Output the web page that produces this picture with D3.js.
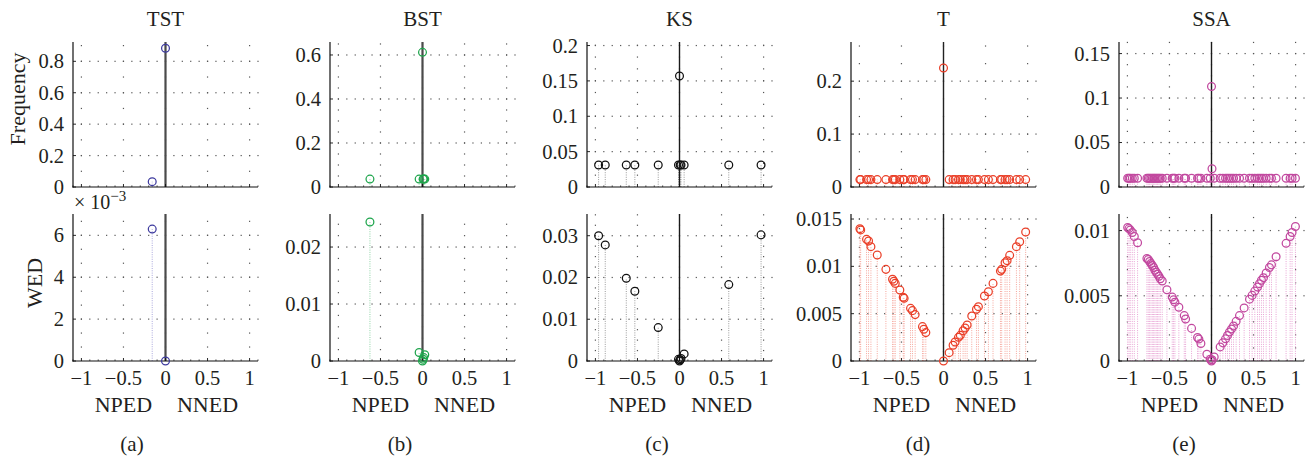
<!DOCTYPE html>
<html>
<head>
<meta charset="utf-8">
<script src="https://cdn.jsdelivr.net/npm/d3@7"></script>
<style>
  body { margin: 0; background: #fff; }
  svg { display: block; }
  text { font-family: "Liberation Serif", "Times New Roman", serif; fill: #231f20; }
</style>
</head>
<body>
<svg id="chart" width="1313" height="458"></svg>
<script>
// ---- data ----------------------------------------------------------------
const methods  = ["TST", "BST", "KS", "T", "SSA"];
const captions = ["(a)", "(b)", "(c)", "(d)", "(e)"];
const xTicks   = [-1, -0.5, 0, 0.5, 1];

// TST
const tstPos  = [-0.158, 0];
const tstFreq = [0.034, 0.883];
const tstWed  = [0.0063, 0];

// BST
const bstPos  = [-0.625, -0.04, 0, 0.007, 0.015, 0.027];
const bstFreq = [0.036, 0.036, 0.612, 0.036, 0.036, 0.036];
const bstWed  = [0.0244, 0.0015, 0, 0.0003, 0.0006, 0.0011];

// KS
const ksPos  = [-0.962, -0.883, -0.633, -0.531, -0.253, -0.012, 0, 0.008, 0.018, 0.055, 0.586, 0.970];
const ksFreq = [0.031, 0.031, 0.031, 0.031, 0.031, 0.031, 0.157, 0.031, 0.031, 0.031, 0.031, 0.031];
const ksWed  = [0.0300, 0.0278, 0.0198, 0.0167, 0.0080, 0.0004, 0, 0.0003, 0.0006, 0.0017, 0.0183, 0.0302];

// T
const tPos = [-0.994, -0.985, -0.915, -0.891, -0.863, -0.788, -0.685, -0.606, -0.590, -0.574,
              -0.519, -0.479, -0.468, -0.392, -0.369, -0.337, -0.250, -0.234, -0.210,
              0,
              0.067, 0.114, 0.138, 0.178, 0.200, 0.233, 0.257, 0.281, 0.336, 0.392, 0.415,
              0.487, 0.534, 0.589, 0.677, 0.692, 0.732, 0.756, 0.787, 0.867, 0.906, 0.977];
const tFreq = [0.014, 0.014, 0.014, 0.014, 0.014, 0.014, 0.014, 0.014, 0.014, 0.014,
               0.014, 0.014, 0.014, 0.014, 0.014, 0.014, 0.014, 0.014, 0.014,
               0.225,
               0.014, 0.014, 0.014, 0.014, 0.014, 0.014, 0.014, 0.014, 0.014, 0.014, 0.014,
               0.014, 0.014, 0.014, 0.014, 0.014, 0.014, 0.014, 0.014, 0.014, 0.014, 0.014];
const tWed = [0.01398, 0.01385, 0.01285, 0.01268, 0.01208, 0.0112, 0.00968, 0.00863, 0.00842, 0.0082,
              0.0075, 0.00673, 0.00662, 0.00556, 0.00532, 0.0049, 0.00363, 0.00335, 0.0030,
              0,
              0.00088, 0.00166, 0.0020, 0.0025, 0.00271, 0.0032, 0.00349, 0.0038, 0.00475, 0.00546, 0.00574,
              0.00687, 0.00732, 0.0082, 0.0095, 0.00968, 0.01039, 0.0106, 0.01116, 0.01208, 0.0126, 0.01363];

// SSA
const ssaPos = [-0.997, -0.981, -0.966, -0.942, -0.918, -0.879, -0.768, -0.752, -0.736, -0.720,
                -0.704, -0.688, -0.673, -0.657, -0.641, -0.625, -0.609, -0.586, -0.530, -0.467,
                -0.451, -0.435, -0.388, -0.324, -0.308, -0.237, -0.166, -0.150, -0.126, -0.055, -0.015,
                0, 0.006,
                0.032, 0.103, 0.135, 0.167, 0.190, 0.214, 0.238, 0.262, 0.293, 0.333,
                0.388, 0.452, 0.483, 0.515, 0.547, 0.570, 0.594, 0.618, 0.650, 0.689,
                0.713, 0.768, 0.887, 0.935, 0.958, 0.998];
const ssaFreq = [0.0099, 0.0099, 0.0099, 0.0099, 0.0099, 0.0099, 0.0099, 0.0099, 0.0099, 0.0099,
                 0.0099, 0.0099, 0.0099, 0.0099, 0.0099, 0.0099, 0.0099, 0.0099, 0.0099, 0.0099,
                 0.0099, 0.0099, 0.0099, 0.0099, 0.0099, 0.0099, 0.0099, 0.0099, 0.0099, 0.0099, 0.0099,
                 0.113, 0.0205,
                 0.0099, 0.0099, 0.0099, 0.0099, 0.0099, 0.0099, 0.0099, 0.0099, 0.0099, 0.0099,
                 0.0099, 0.0099, 0.0099, 0.0099, 0.0099, 0.0099, 0.0099, 0.0099, 0.0099, 0.0099,
                 0.0099, 0.0099, 0.0099, 0.0099, 0.0099, 0.0099];
const ssaWed = [0.01023, 0.01015, 0.01005, 0.00985, 0.00954, 0.00907, 0.00786, 0.00778, 0.00763, 0.00747,
                0.00732, 0.00717, 0.00696, 0.0068, 0.00665, 0.0065, 0.00631, 0.00613, 0.00546, 0.0049,
                0.00469, 0.00451, 0.00412, 0.00348, 0.00322, 0.0025, 0.0018, 0.00168, 0.00134, 0.00052, 0.00013,
                0, 0.0001,
                0.00031, 0.00108, 0.00139, 0.0017, 0.00196, 0.00222, 0.00245, 0.00268, 0.00304, 0.00348,
                0.00407, 0.00474, 0.00503, 0.00536, 0.00567, 0.00593, 0.00619, 0.00639, 0.00675, 0.00717,
                0.00737, 0.00799, 0.00902, 0.00954, 0.00985, 0.01031];

// y-axis limits and ticks per panel
const freqLimits = [0.923, 0.659, 0.205, 0.274, 0.163];
const wedLimits  = [0.00702, 0.0258, 0.0352, 0.01553, 0.01127];
const freqTicks = [[0, 0.2, 0.4, 0.6, 0.8], [0, 0.2, 0.4, 0.6], [0, 0.05, 0.1, 0.15, 0.2], [0, 0.1, 0.2], [0, 0.05, 0.1, 0.15]];
const wedTicks  = [[0, 0.002, 0.004, 0.006], [0, 0.01, 0.02], [0, 0.01, 0.02, 0.03], [0, 0.005, 0.01, 0.015], [0, 0.005, 0.01]];
const freqMinor = [0.1, 0.05, 0.0167, 0.0333, 0.0125];
const wedMinor  = [0.000667, 0.002, 0.0025, 0.001, 0.001];

// ---- styles ----------------------------------------------------------------
const markerColors = ["#3d3a9e", "#1ea54c", "#111111", "#ea3f28", "#c2489f"];
const stemColors   = ["#a9a6dc", "#8fd3a6", "#9a9a9a", "#f5a59b", "#e8a3d4"];
const centerColors = ["#4a4a4a", "#4a4a4a", "#1a1a1a", "#222222", "#1a1a1a"];
const centerWidths = [2.2, 2.2, 1.4, 1.4, 1.4];
const axLeft   = [73, 330, 587, 851, 1119];
const captionX = [132, 400, 657, 918, 1184];
const axW = 185;
const rows = [{ top: 42, bottom: 187 }, { top: 214, bottom: 361 }];
const tickSize = 20.5;

const panels = [
  { pos: tstPos, freq: tstFreq, wed: tstWed },
  { pos: bstPos, freq: bstFreq, wed: bstWed },
  { pos: ksPos,  freq: ksFreq,  wed: ksWed  },
  { pos: tPos,   freq: tFreq,   wed: tWed   },
  { pos: ssaPos, freq: ssaFreq, wed: ssaWed }
];

const svg = d3.select("#chart");
const minus = s => s.replace(/-/g, "\u2212");
const fmt = v => minus(String(+v.toPrecision(6)));

function drawAxes(i, rowIdx, values, limit, ticks, minor, tickFmt) {
  const row = rows[rowIdx];
  const L = axLeft[i];
  const x = d3.scaleLinear().domain([-1.1, 1.1]).range([L, L + axW]);
  const y = d3.scaleLinear().domain([0, limit]).range([row.bottom, row.top]);
  const g = svg.append("g");

  // dotted grid: horizontal at major y ticks, vertical at major x ticks
  const gridG = g.append("g").attr("fill", "#555");
  ticks.filter(t => t > 0).forEach(t => {
    d3.range(1, 23).forEach(k => {
      const xv = -1.1 + k * 0.1;
      gridG.append("rect").attr("x", x(xv) - 0.6).attr("y", y(t) - 0.6)
        .attr("width", 1.2).attr("height", 1.2);
    });
  });
  xTicks.forEach(xt => {
    d3.range(1, Math.floor(limit / minor + 1e-6) + 1).forEach(k => {
      gridG.append("rect").attr("x", x(xt) - 0.6).attr("y", y(k * minor) - 0.6)
        .attr("width", 1.2).attr("height", 1.2);
    });
  });

  const pts = panels[i].pos.map((p, j) => ({ p, v: values[j] }));

  // stems
  g.append("g").selectAll("line").data(pts).join("line")
    .attr("x1", d => x(d.p)).attr("x2", d => x(d.p))
    .attr("y1", y(0)).attr("y2", d => y(d.v))
    .attr("stroke", stemColors[i]).attr("stroke-width", 1)
    .attr("stroke-dasharray", "1,1.3");

  // zero reference line
  g.append("line").attr("x1", x(0)).attr("x2", x(0))
    .attr("y1", y(0)).attr("y2", row.top)
    .attr("stroke", centerColors[i]).attr("stroke-width", centerWidths[i]);

  // axes
  const ax = g.append("g").attr("stroke", "#111").attr("stroke-width", 1.2);
  ax.append("line").attr("x1", L).attr("x2", L).attr("y1", row.top).attr("y2", row.bottom + 0.6);
  ax.append("line").attr("x1", L - 0.6).attr("x2", L + axW).attr("y1", row.bottom).attr("y2", row.bottom);
  xTicks.forEach(t => ax.append("line").attr("x1", x(t)).attr("x2", x(t))
    .attr("y1", row.bottom).attr("y2", row.bottom - 3).attr("stroke-width", 0.9));
  d3.range(-11, 12).forEach(k => {
    if (k % 5 !== 0) ax.append("line").attr("x1", x(k / 10)).attr("x2", x(k / 10))
      .attr("y1", row.bottom).attr("y2", row.bottom - 1.6).attr("stroke-width", 0.7);
  });
  ticks.forEach(t => ax.append("line").attr("x1", L).attr("x2", L + 3)
    .attr("y1", y(t)).attr("y2", y(t)).attr("stroke-width", 0.9));

  // y tick labels
  g.append("g").selectAll("text").data(ticks).join("text")
    .attr("x", L - 9).attr("y", d => y(d)).attr("dy", "0.34em")
    .attr("text-anchor", "end").attr("font-size", tickSize)
    .text(tickFmt);

  // markers
  g.append("g").selectAll("circle").data(pts).join("circle")
    .attr("cx", d => x(d.p)).attr("cy", d => y(d.v)).attr("r", 3.9)
    .attr("fill", "none").attr("stroke", markerColors[i]).attr("stroke-width", 1.25);

  return x;
}

methods.forEach((name, i) => {
  const L = axLeft[i];
  svg.append("text").attr("x", L + axW / 2).attr("y", 26).attr("text-anchor", "middle")
    .attr("font-size", 21).text(name);

  drawAxes(i, 0, panels[i].freq, freqLimits[i], freqTicks[i], freqMinor[i], fmt);
  const wedFmt = i === 0 ? (v => fmt(v * 1000)) : fmt;
  const x = drawAxes(i, 1, panels[i].wed, wedLimits[i], wedTicks[i], wedMinor[i], wedFmt);

  // x tick labels on the lower row
  svg.append("g").selectAll("text").data(xTicks).join("text")
    .attr("x", d => x(d)).attr("y", 385).attr("text-anchor", "middle")
    .attr("font-size", tickSize).text(fmt);

  svg.append("text").attr("x", x(-0.5)).attr("y", 412).attr("text-anchor", "middle")
    .attr("font-size", 22).text("NPED");
  svg.append("text").attr("x", x(0.5)).attr("y", 412).attr("text-anchor", "middle")
    .attr("font-size", 22).text("NNED");
  svg.append("text").attr("x", captionX[i]).attr("y", 451).attr("text-anchor", "middle")
    .attr("font-size", 21).text(captions[i]);
});

// row labels
svg.append("text").attr("transform", "translate(25,99) rotate(-90)")
  .attr("text-anchor", "middle").attr("font-size", 22).text("Frequency");
svg.append("text").attr("transform", "translate(42,283) rotate(-90)")
  .attr("text-anchor", "middle").attr("font-size", 22).text("WED");

// exponent of the first WED axis
const expo = svg.append("text").attr("x", 74).attr("y", 209).attr("font-size", 20);
expo.append("tspan").text("\u00d7 10");
expo.append("tspan").attr("dy", -8).attr("font-size", 15).text("\u22123");
</script>
</body>
</html>
